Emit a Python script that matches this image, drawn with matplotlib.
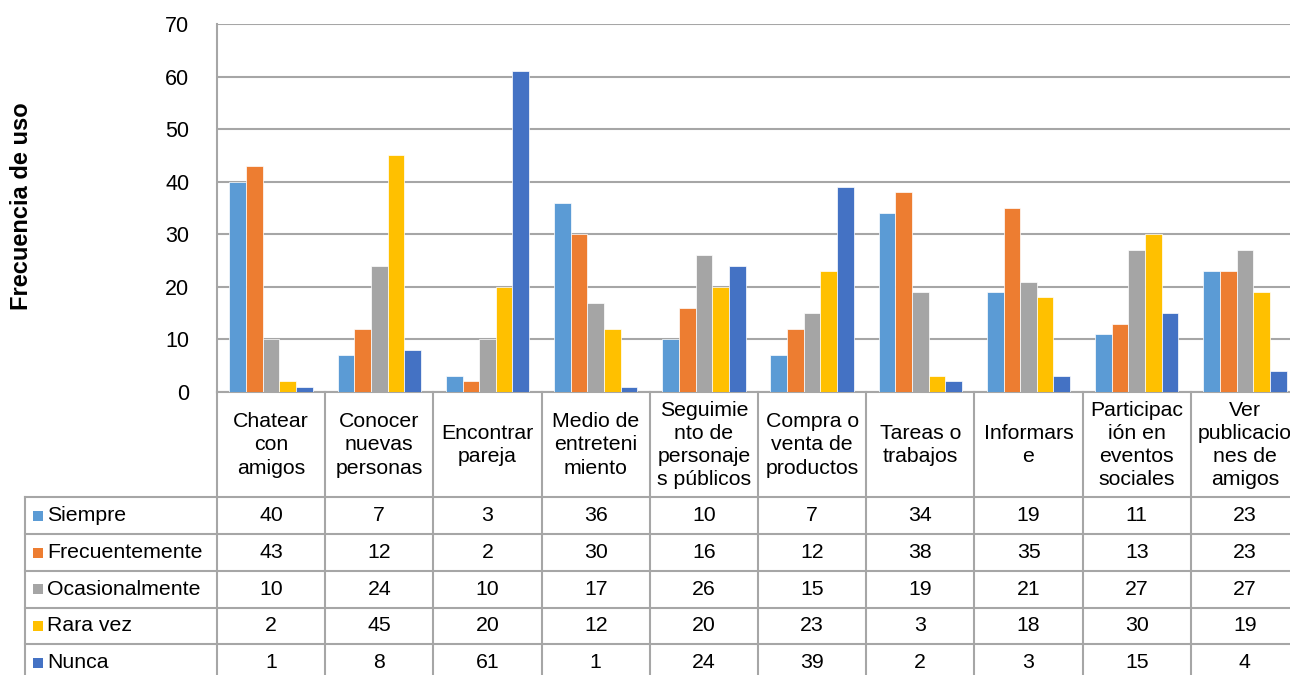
import matplotlib
matplotlib.use("Agg")
from matplotlib import pyplot as plt
from matplotlib import transforms
from matplotlib.lines import Line2D
from matplotlib.patches import Rectangle
import numpy as np

plt.rcParams['font.family'] = ['Liberation Sans', 'DejaVu Sans']

categorias = ["Chatear\ncon\namigos", "Conocer\nnuevas\npersonas", "Encontrar\npareja",
              "Medio de\nentreteni\nmiento", "Seguimie\nnto de\npersonaje\ns públicos",
              "Compra o\nventa de\nproductos", "Tareas o\ntrabajos", "Informars\ne",
              "Participac\nión en\neventos\nsociales", "Ver\npublicacio\nnes de\namigos"]

series = ["Siempre", "Frecuentemente", "Ocasionalmente", "Rara vez", "Nunca"]
siempre = [40, 7, 3, 36, 10, 7, 34, 19, 11, 23]
frecuentemente = [43, 12, 2, 30, 16, 12, 38, 35, 13, 23]
ocasionalmente = [10, 24, 10, 17, 26, 15, 19, 21, 27, 27]
rara_vez = [2, 45, 20, 12, 20, 23, 3, 18, 30, 19]
nunca = [1, 8, 61, 1, 24, 39, 2, 3, 15, 4]
valores = [siempre, frecuentemente, ocasionalmente, rara_vez, nunca]
colores = ["#5B9BD5", "#ED7D31", "#A5A5A5", "#FFC000", "#4472C4"]

W, H = 1290, 675
fig = plt.figure(figsize=(W / 100, H / 100), dpi=100)
ax = fig.add_axes([217 / W, 1 - 392 / H, 1082 / W, 368 / H])

gris = "#A6A6A6"
x = np.arange(len(categorias))
w = 0.154
for j, (nombre, vals, c) in enumerate(zip(series, valores, colores)):
    ax.bar(x + (j - 2) * w, vals, w, color=c, edgecolor="white", linewidth=0.5,
           label=nombre, zorder=3)

ax.set_xlim(-0.5, len(categorias) - 0.5)
ax.set_ylim(0, 70)
ax.set_yticks(range(0, 71, 10))
ax.tick_params(axis="y", length=0, pad=20, labelsize=15.5)
ax.set_xticks([])
ax.yaxis.grid(True, color=gris, linewidth=1.5, zorder=0)
for s in ["top", "right"]:
    ax.spines[s].set_visible(False)
for s in ["left", "bottom"]:
    ax.spines[s].set_color(gris)
    ax.spines[s].set_linewidth(1.5)

fig.text(22 / W, 1 - 206 / H, "Frecuencia de uso", rotation=90, ha="center", va="center",
         fontsize=17, fontweight="bold")

# tabla de datos bajo el eje
tr = transforms.blended_transform_factory(ax.transData, fig.transFigure)
fy = lambda py: 1 - py / H
filas = [497, 534, 571, 607.5, 644, 681]
fs = 15.3

# líneas verticales entre categorías
fig.add_artist(Line2D([-0.5, -0.5], [fy(392), fy(H)], transform=tr, color=gris, lw=1.5))
for i in range(len(categorias)):
    fig.add_artist(Line2D([i + 0.5, i + 0.5], [fy(392), fy(H)], transform=tr,
                          color=gris, lw=1.5))
# borde izquierdo y horizontales
fig.add_artist(Line2D([25 / W, 25 / W], [fy(filas[0]), fy(H)], transform=fig.transFigure,
                      color=gris, lw=1.5))
for py in filas[:-1]:
    fig.add_artist(Line2D([25 / W, 1], [fy(py), fy(py)], transform=fig.transFigure,
                          color=gris, lw=1.5))

# encabezados
for i, cat in enumerate(categorias):
    fig.text(i, fy(445), cat, transform=tr, ha="center", va="center", fontsize=fs,
             linespacing=1.28)

# filas de la serie
for j, (nombre, vals, c) in enumerate(zip(series, valores, colores)):
    yc = (filas[j] + filas[j + 1]) / 2
    fig.add_artist(Rectangle((33 / W, fy(yc + 5)), 10 / W, 10 / H, transform=fig.transFigure,
                             facecolor=c, edgecolor="none"))
    fig.text(47 / W, fy(yc), nombre, ha="left", va="center", fontsize=fs)
    for i, v in enumerate(vals):
        fig.text(i, fy(yc), str(v), transform=tr, ha="center", va="center", fontsize=fs)

fig.savefig("out.png", dpi=100)
